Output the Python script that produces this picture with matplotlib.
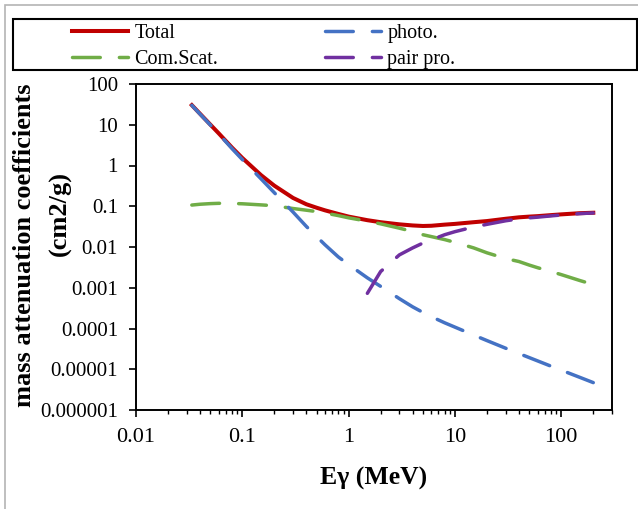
import matplotlib

matplotlib.use("Agg")
import matplotlib.pyplot as plt
from matplotlib.patches import Rectangle

plt.rcParams["font.family"] = ["Liberation Serif", "DejaVu Serif"]

# photon energy grid (MeV)
energy = [0.0335, 0.04, 0.05, 0.06, 0.08, 0.1, 0.15, 0.2, 0.3, 0.4, 0.5, 0.6, 0.8, 1,
          1.5, 2, 3, 4, 5, 6, 8, 10, 15, 20, 30, 40, 50, 60, 80, 100, 150, 200]

total = [30.3, 18.6, 10.1, 6.15, 2.75, 1.53, 0.58, 0.32, 0.16, 0.112, 0.092, 0.0793,
         0.0647, 0.0557, 0.0455, 0.0406, 0.036, 0.0338, 0.0328, 0.0332, 0.0354, 0.0369,
         0.0406, 0.0433, 0.0493, 0.0535, 0.0557, 0.0572, 0.0606, 0.0632, 0.0676, 0.0693]

photo = [30.0, 18.3, 9.9, 5.97, 2.6, 1.40, 0.47, 0.215, 0.072, 0.032, 0.018, 0.0113,
         0.0057, 0.0037, 0.00175, 0.00108, 5.4e-4, 3.4e-4, 2.48e-4, 1.95e-4, 1.38e-4, 1.08e-4,
         6.9e-5, 5.05e-5, 3.28e-5, 2.43e-5, 1.93e-5, 1.6e-5, 1.19e-5, 9.5e-6, 6.3e-6, 4.7e-6]

compton = [0.107, 0.112, 0.116, 0.118, 0.117, 0.115, 0.108, 0.103, 0.088, 0.080, 0.074,
           0.068, 0.059, 0.052, 0.043, 0.037, 0.029, 0.024, 0.020, 0.018, 0.0152, 0.0130,
           0.0095, 0.0072, 0.0052, 0.0044, 0.0036, 0.0031, 0.0025, 0.0021, 0.0015, 0.0012]

pair_energy = [1.5, 2, 3, 4, 5, 6, 8, 10, 15, 20, 30, 40, 50, 60, 80, 100, 150, 200]
pair = [7.3e-4, 0.0025, 0.0064, 0.0095, 0.0125, 0.015, 0.020, 0.0238, 0.031, 0.036,
        0.044, 0.049, 0.052, 0.054, 0.058, 0.061, 0.066, 0.0685]

y_ticks = [1e-6, 1e-5, 1e-4, 1e-3, 1e-2, 0.1, 1, 10, 100]
y_labels = ["0.000001", "0.00001", "0.0001", "0.001", "0.01", "0.1", "1", "10", "100"]
x_ticks = [0.01, 0.1, 1, 10, 100]
x_labels = ["0.01", "0.1", "1", "10", "100"]

W, H = 638, 509
fig = plt.figure(figsize=(W / 100, H / 100), dpi=100)
ax = fig.add_axes([136 / W, 1 - 410 / H, (612 - 136) / W, (410 - 84) / H])

dash = (8, 5.5)
lw = 2.5
style = dict(lw=lw, dashes=dash, dash_capstyle="round")
ax.plot(energy, total, color="#c00000", lw=2.9, label="Total")
ax.plot(energy, compton, color="#70ad47", label="Com.Scat.", **style)
ax.plot(energy, photo, color="#4472c4", label="photo.", **style)
ax.plot(pair_energy, pair, color="#7030a0", label="pair pro.", **style)

ax.set_xscale("log")
ax.set_yscale("log")
ax.set_xlim(0.01, 300)
ax.set_ylim(1e-6, 100)
ax.set_yticks(y_ticks)
ax.set_yticklabels(y_labels)
ax.yaxis.set_minor_locator(matplotlib.ticker.NullLocator())
ax.set_xticks(x_ticks)
ax.set_xticklabels(x_labels)
ax.xaxis.set_minor_locator(matplotlib.ticker.LogLocator(base=10, subs=range(2, 10)))
ax.xaxis.set_minor_formatter(matplotlib.ticker.NullFormatter())
ax.tick_params(which="major", direction="out", length=5, width=1.2, labelsize=15,
               pad=8, color="black")
ax.tick_params(axis="x", which="major", labelsize=16)
ax.tick_params(which="minor", direction="out", length=3, width=1.0)
for s in ax.spines.values():
    s.set_linewidth(1.4)
    s.set_color("black")

ax.set_xlabel("E\u03b3 (MeV)", fontsize=18.5, fontweight="bold", labelpad=14)
# y title: two lines placed as in the source chart
ylab = dict(rotation=90, ha="center", va="center", fontsize=19, fontweight="bold")
fig.text(25 / W, 1 - 245 / H, "mass attenuation coefficients", **ylab)
fig.text(60 / W, 1 - 213 / H, "(cm2/g)", **ylab)

# chart area border and legend frame
fig.patches.append(Rectangle((5 / W, -0.1), 1.2, 1 - 5 / H + 0.1, transform=fig.transFigure,
                             fill=False, edgecolor="#b4b4b4", lw=1.2))
fig.patches.append(Rectangle((13 / W, 1 - 70 / H), (637 - 13) / W, 51 / H,
                             transform=fig.transFigure, fill=False, edgecolor="black", lw=1.5))

handles, labels = ax.get_legend_handles_labels()
fig.legend(handles, labels, ncol=2,
           loc="center left", bbox_to_anchor=(72 / W, 1 - 46.5 / H), frameon=False,
           fontsize=14.5, handlelength=2.8, handletextpad=0.3, columnspacing=5.3,
           labelspacing=0.3, borderaxespad=0, borderpad=0)

fig.savefig("out.png", dpi=100, facecolor="white")
